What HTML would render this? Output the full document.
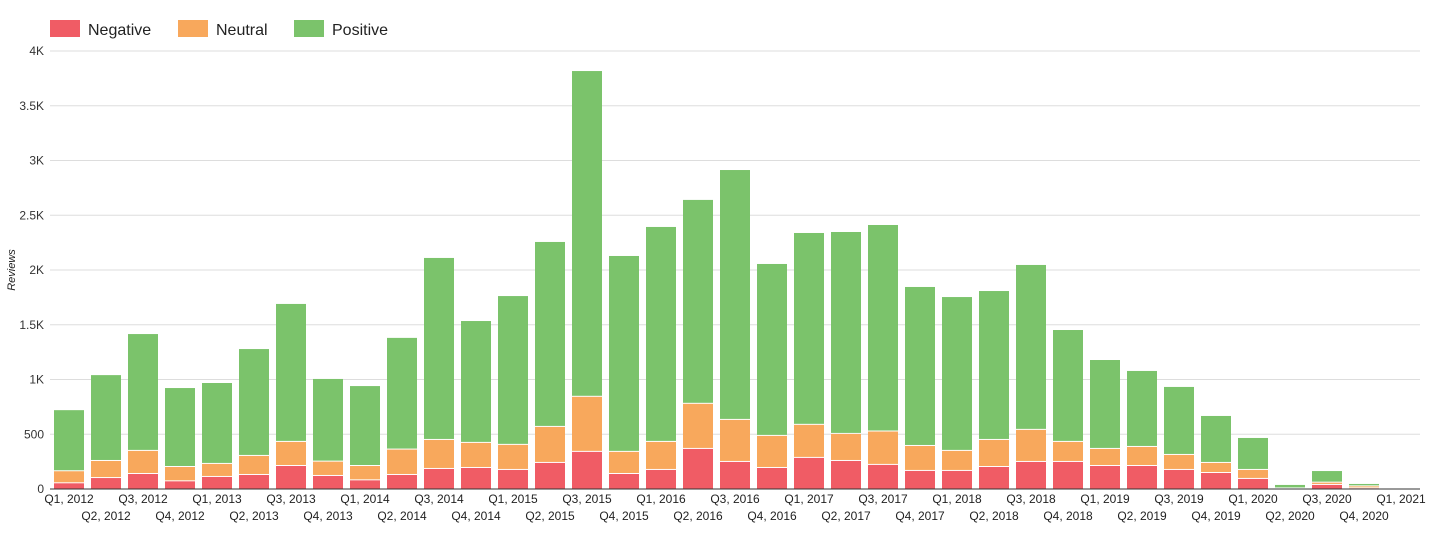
<!DOCTYPE html>
<html><head><meta charset="utf-8"><style>
body{margin:0;background:#fff;font-family:"Liberation Sans",sans-serif}
svg{display:block}
</style></head><body>
<svg id="chart" width="1432" height="537" xmlns="http://www.w3.org/2000/svg">
<g id="legend">
<g><rect x="50" y="20" width="30" height="17" fill="#f05c65"/><text x="88" y="35" font-size="16" fill="#222">Negative</text></g>
<g><rect x="178" y="20" width="30" height="17" fill="#f8a85c"/><text x="216" y="35" font-size="16" fill="#222">Neutral</text></g>
<g><rect x="294" y="20" width="30" height="17" fill="#7bc36b"/><text x="332" y="35" font-size="16" fill="#222">Positive</text></g>
</g>
<text transform="translate(15,270) rotate(-90)" text-anchor="middle" font-size="11" font-style="italic" fill="#222">Reviews</text>
<g id="grid"></g><g id="bars"></g><g id="xlabels"></g>
</svg>
<script>
const categories=["Q1, 2012","Q2, 2012","Q3, 2012","Q4, 2012","Q1, 2013","Q2, 2013","Q3, 2013","Q4, 2013","Q1, 2014","Q2, 2014","Q3, 2014","Q4, 2014","Q1, 2015","Q2, 2015","Q3, 2015","Q4, 2015","Q1, 2016","Q2, 2016","Q3, 2016","Q4, 2016","Q1, 2017","Q2, 2017","Q3, 2017","Q4, 2017","Q1, 2018","Q2, 2018","Q3, 2018","Q4, 2018","Q1, 2019","Q2, 2019","Q3, 2019","Q4, 2019","Q1, 2020","Q2, 2020","Q3, 2020","Q4, 2020","Q1, 2021"];
const negative=[52,100,137,70,110,128,210,119,79,128,183,192,174,238,339,137,174,366,247,192,284,256,220,165,165,201,247,247,210,210,174,146,92,2,37,6,1];
const neutral=[110,156,211,131,119,174,220,131,131,232,265,229,229,329,503,202,256,412,384,293,302,247,305,228,183,247,293,183,156,174,137,92,82,3,21,18,1];
const positive=[558,784,1067,721,739,976,1260,755,730,1020,1662,1113,1359,1689,2975,1789,1963,1862,2282,1570,1752,1844,1886,1452,1405,1360,1506,1022,812,694,621,429,292,32,106,22,3];
const yTicks=[0,500,1000,1500,2000,2500,3000,3500,4000];
const yTickLabels=["0","500","1K","1.5K","2K","2.5K","3K","3.5K","4K"];
const NS="http://www.w3.org/2000/svg";
const y0=489,yTop=51,vMax=4000;
function y(v){return y0-(v/vMax)*(y0-yTop);}
function xc(i){return 69+i*37;}
const bw=30;
function mk(t,a,p){const e=document.createElementNS(NS,t);for(const k in a)e.setAttribute(k,a[k]);p.appendChild(e);return e;}
const grid=document.getElementById('grid');
yTicks.forEach((v,i)=>{
 const l=mk('line',{x1:50,x2:1420,y1:y(v),y2:y(v),stroke:i==0?'#333':'#ddd','stroke-width':1},grid);
 
 
 const t=mk('text',{x:44,y:y(v)+4,'text-anchor':'end','font-size':12,fill:'#333'},grid);
 t.textContent=yTickLabels[i];
 
 
});
const bars=document.getElementById('bars'),xl=document.getElementById('xlabels');
const series=[[negative,'#f05c65','negative'],[neutral,'#f8a85c','neutral'],[positive,'#7bc36b','positive']];
categories.forEach((c,i)=>{
 let acc=0;
 series.forEach(([arr,col,nm])=>{
  const v=arr[i];const top=y(acc+v),bot=y(acc);acc+=v;
  const h=Math.max(0,bot-top-(nm!=='negative'?1:0));
  const r=mk('rect',{x:xc(i)-bw/2,y:top,width:bw,height:h,fill:col},bars);
  
  
 });
 const t=mk('text',{x:xc(i),y:i%2==0?503:520,'text-anchor':'middle','font-size':12,fill:'#222'},xl);
 t.textContent=c;
 
 
});
document.getElementById('chart').appendChild(grid.firstChild);
</script>
</body></html>
